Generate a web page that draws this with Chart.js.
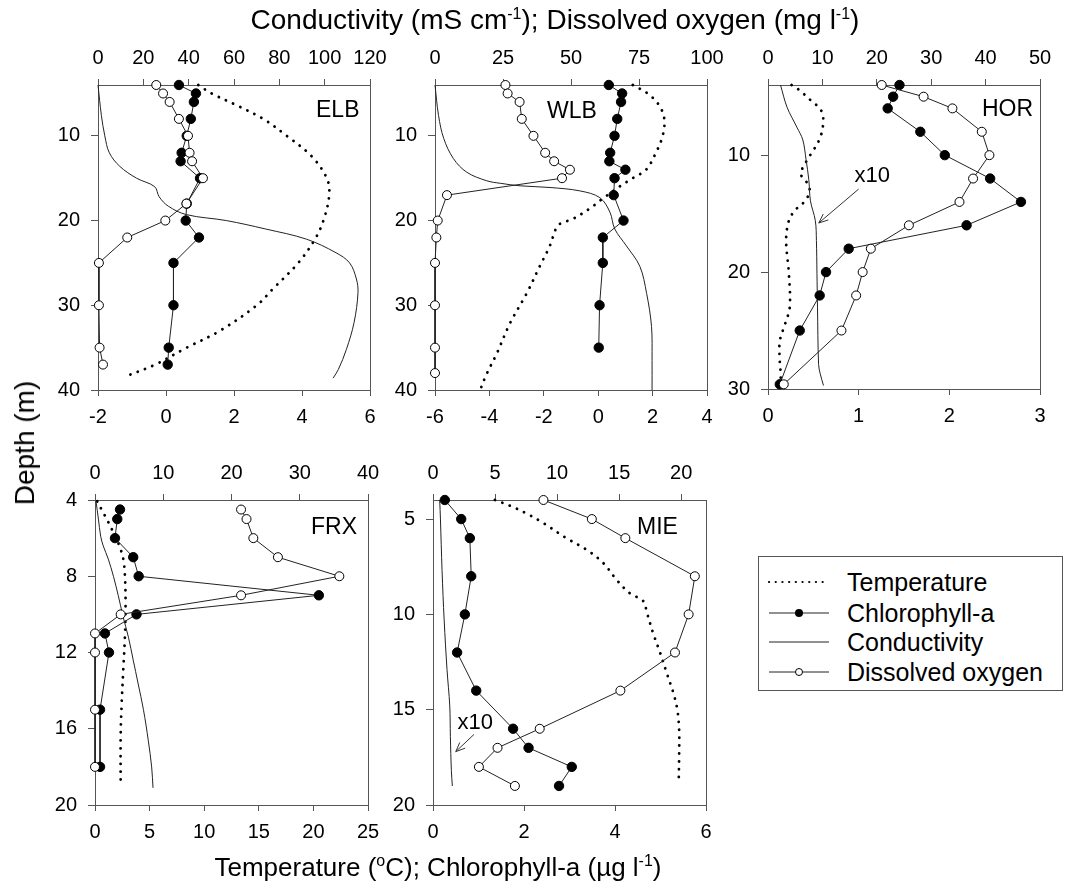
<!DOCTYPE html>
<html>
<head>
<meta charset="utf-8">
<script src="https://cdn.jsdelivr.net/npm/chart.js@4.4.0/dist/chart.umd.min.js"></script>
<style>
  body { margin: 0; background: #fff; }
  #page { position: relative; width: 1068px; height: 888px; overflow: hidden;
          font-family: "Liberation Sans", Arial, sans-serif; color: #000; }
  #page canvas { position: absolute; }
  .title { position: absolute; white-space: nowrap; font-size: 26px; transform: translate(-50%, -50%); }
  .title sup { font-size: 16px; vertical-align: 10px; line-height: 0; }
  #toptitle { font-size: 28px; }
  #ytitle { font-size: 28px; transform: translate(-50%, -50%) rotate(-90deg); }
  #legend { position: absolute; left: 758px; top: 556px; width: 305px; height: 135px;
            border: 1px solid #555; box-sizing: border-box; }
  #legend svg { position: absolute; left: 0; top: 0; }
  .lg { position: absolute; left: 88px; font-size: 25px; transform: translateY(-50%); white-space: nowrap; }
</style>
</head>
<body>
<div id="page">
  <canvas id="elb"></canvas>
  <canvas id="wlb"></canvas>
  <canvas id="hor"></canvas>
  <canvas id="frx"></canvas>
  <canvas id="mie"></canvas>
  <div class="title" id="toptitle" style="left:555px; top:20px;">Conductivity (mS cm<sup>-1</sup>); Dissolved oxygen (mg l<sup>-1</sup>)</div>
  <div class="title" style="left:438px; top:867px;">Temperature (<sup>o</sup>C); Chlorophyll-a (µg l<sup>-1</sup>)</div>
  <div class="title" id="ytitle" style="left:25px; top:443px;">Depth (m)</div>
  <div id="legend">
    <svg width="305" height="135">
      <line x1="10" y1="25" x2="70" y2="25" stroke="#000" stroke-width="2.2" stroke-linecap="round" stroke-dasharray="0.1 6.6"/>
      <line x1="10" y1="56" x2="70" y2="56" stroke="#222" stroke-width="1"/>
      <circle cx="40" cy="56" r="4" fill="#000"/>
      <line x1="10" y1="85" x2="70" y2="85" stroke="#222" stroke-width="1"/>
      <line x1="10" y1="115" x2="70" y2="115" stroke="#222" stroke-width="1"/>
      <circle cx="40" cy="115" r="3.5" fill="#fff" stroke="#000" stroke-width="1"/>
    </svg>
    <div class="lg" style="top:25px;">Temperature</div>
    <div class="lg" style="top:56px;">Chlorophyll-a</div>
    <div class="lg" style="top:85px;">Conductivity</div>
    <div class="lg" style="top:115px;">Dissolved oxygen</div>
  </div>
</div>
<script>
// ---- ELB ----
const elbChlDepth = [4, 5, 6, 8, 10, 12, 13, 15, 18, 20, 22, 25, 30, 35, 37];
const elbChl = [0.38, 0.88, 0.82, 0.73, 0.61, 0.46, 0.43, 1.0, 0.61, 0.58, 0.97, 0.22, 0.22, 0.08, 0.05];
const elbDoDepth = [4, 5, 6, 8, 10, 12, 13, 15, 18, 20, 22, 25, 30, 35, 37];
const elbDo = [25.7, 28.7, 31.6, 35.7, 39.7, 40.4, 41.5, 46.3, 39, 29.7, 12.9, 0.4, 0.4, 0.7, 2.2];
const elbTempDepth = [4, 5, 6.4, 8, 10, 12.4, 15, 17, 20, 22.2, 25, 28, 30, 33, 35, 37, 38.5];
const elbTemp = [0.95, 1.34, 2.08, 2.86, 3.55, 4.28, 4.73, 4.8, 4.63, 4.38, 3.89, 3.16, 2.67, 1.59, 0.61, -0.32, -1.25];
const elbCondDepth = [4, 7.6, 10, 12, 13.6, 15, 16, 17.2, 18.3, 19.3, 20, 21, 22.2, 23.8, 25, 26.9, 28.5, 32, 35.2, 37.6, 38.6];
const elbCond = [0, 1.5, 3, 5, 9.6, 17, 25, 27, 31, 39, 56.6, 74, 92, 105, 111, 114, 114.7, 113, 109.6, 106, 103.7];

// ---- WLB ----
const wlbChlDepth = [4, 5, 6, 8, 10, 12, 13, 14, 15, 17, 20, 22, 25, 30, 35];
const wlbChl = [0.39, 0.88, 0.84, 0.70, 0.60, 0.44, 0.41, 1.0, 0.60, 0.57, 0.93, 0.17, 0.17, 0.05, 0.02];
const wlbDoDepth = [4, 5, 6, 8, 10, 12, 13, 14, 15, 17, 20, 22, 25, 30, 35, 38];
const wlbDo = [25.9, 26.7, 31.1, 31.9, 36.2, 40.5, 43.8, 49.6, 46.7, 4.4, 1.0, 0.5, 0, 0, 0, 0];
const wlbTempDepth = [4, 5, 6.4, 8, 10, 12, 14, 15, 16, 17.4, 18.6, 19.8, 20.4, 21, 23, 25.4, 28.6, 32.1, 35.7, 38.1, 40];
const wlbTemp = [1.27, 1.82, 2.24, 2.43, 2.37, 2.12, 1.76, 1.27, 0.78, 0.17, -0.32, -0.93, -1.41, -1.56, -1.78, -2.15, -2.63, -3.24, -3.73, -4.1, -4.34];
const wlbCondDepth = [4, 7.6, 10.3, 12.7, 14.3, 15.3, 15.6, 15.9, 16.1, 16.5, 17.3, 19, 21, 23, 25.4, 28.6, 32.5, 36.5, 40];
const wlbCond = [0, 1.3, 3.2, 6.8, 11.7, 19, 24, 31.3, 42.3, 53.3, 60.6, 64.3, 66.1, 70.4, 75.3, 77.8, 79.6, 79.8, 79.8];

// ---- HOR ----
const horChlDepth = [4, 5, 6, 8, 10, 12, 14, 16, 18, 20, 22, 25, 29.6];
const horChl = [1.45, 1.38, 1.32, 1.68, 1.95, 2.45, 2.79, 2.19, 0.89, 0.64, 0.57, 0.35, 0.13];
const horDoDepth = [4, 5, 6, 8, 10, 12, 14, 16, 18, 20, 22, 25, 29.6];
const horDo = [20.9, 28.6, 33.9, 39.3, 40.7, 37.7, 35.2, 25.9, 18.9, 17.4, 16.2, 13.5, 2.9];
const horTempDepth = [4, 4.4, 5.3, 6.1, 7, 8.4, 9.6, 10.3, 11.6, 12.1, 13, 13.9, 14.7, 15.6, 17.3, 20.1, 23, 24.4, 25.9, 27.6, 28.7, 29.6];
const horTemp = [0.26, 0.34, 0.47, 0.58, 0.61, 0.58, 0.50, 0.44, 0.36, 0.41, 0.46, 0.41, 0.30, 0.23, 0.20, 0.23, 0.24, 0.19, 0.13, 0.13, 0.14, 0.14];
const horCondDepth = [4, 5.9, 7.6, 8.7, 10.4, 12.1, 13.9, 15.6, 17.3, 20.1, 23, 27.9, 28.7, 29.7];
const horCond = [2.3, 3.5, 5.3, 6.4, 7.0, 7.5, 7.8, 8.7, 8.9, 9.0, 9.1, 9.3, 9.6, 10.2];

// ---- FRX ----
const frxChlDepth = [4.5, 5, 6, 7, 8, 9, 10, 11, 12, 15, 18];
const frxChl = [2.29, 2.04, 1.83, 3.5, 4.0, 20.5, 3.8, 0.91, 1.28, 0.46, 0.46];
const frxDoDepth = [4.5, 5, 6, 7, 8, 9, 10, 11, 12, 15, 18];
const frxDo = [21.4, 22.2, 23.2, 26.8, 35.8, 21.4, 3.76, 0, 0, 0, 0];
const frxTempDepth = [4.07, 4.5, 5, 5.7, 6.4, 7.1, 8, 9.4, 11.2, 12.9, 14.7, 16.4, 19];
const frxTemp = [0.2, 0.6, 1.07, 1.68, 2.23, 2.59, 2.74, 2.8, 2.74, 2.59, 2.44, 2.35, 2.35];
const frxCondDepth = [4.07, 5, 5.9, 6.4, 7.1, 8, 9, 10.1, 11.2, 12.4, 13.6, 15, 16.6, 18, 19.1];
const frxCond = [0.15, 0.5, 0.83, 1.2, 1.95, 2.7, 3.4, 4.1, 4.9, 5.6, 6.3, 7.1, 7.8, 8.3, 8.5];

// ---- MIE ----
const mieChlDepth = [4, 5, 6, 8, 10, 12, 14, 16, 17, 18, 19];
const mieChl = [0.26, 0.62, 0.81, 0.84, 0.70, 0.53, 0.95, 1.76, 2.1, 3.05, 2.77];
const mieDoDepth = [4, 5, 6, 8, 10, 12, 14, 16, 17, 18, 19];
const mieDo = [8.9, 12.8, 15.5, 21.1, 20.6, 19.5, 15.1, 8.6, 5.2, 3.7, 6.6];
const mieTempDepth = [4, 4.3, 4.7, 5.2, 6, 6.6, 7.3, 8.2, 8.9, 9.3, 9.9, 11, 12, 13.1, 14.1, 15, 16.1, 17.3, 18.9];
const mieTemp = [1.36, 1.69, 2.05, 2.42, 2.93, 3.37, 3.74, 4.04, 4.33, 4.62, 4.7, 4.84, 4.99, 5.14, 5.28, 5.37, 5.41, 5.41, 5.40];
const mieCondDepth = [4, 5, 7.7, 10.3, 12.9, 14.8, 16.4, 18.2, 19];
const mieCond = [0.54, 0.6, 0.73, 0.9, 1.13, 1.35, 1.4, 1.48, 1.56];

// tick labels
const elbBottomTicks = [-2, 0, 2, 4, 6];
const elbTopTicks = [0, 20, 40, 60, 80, 100, 120];
const wlbBottomTicks = [-6, -4, -2, 0, 2, 4];
const wlbTopTicks = [0, 25, 50, 75, 100];
const horBottomTicks = [0, 1, 2, 3];
const horTopTicks = [0, 10, 20, 30, 40, 50];
const frxBottomTicks = [0, 5, 10, 15, 20, 25];
const frxTopTicks = [0, 10, 20, 30, 40];
const mieBottomTicks = [0, 2, 4, 6];
const mieTopTicks = [0, 5, 10, 15, 20];
const depthTicksTop = [10, 20, 30, 40];
const depthTicksHor = [10, 20, 30];
const depthTicksFrx = [4, 8, 12, 16, 20];
const depthTicksMie = [5, 10, 15, 20];

const pts = (vals, depths) => vals.map((v, i) => ({ x: v, y: depths[i] }));

const FONT = { family: "'Liberation Sans', Arial, sans-serif", size: 20 };
const AXIS = '#555';
const PADL = 60, PADT = 50;

// frame, panel name and the "x10" notes
const decor = {
  id: 'decor',
  afterDatasetsDraw(chart) {
    const o = chart.options.plugins.decor;
    const a = chart.chartArea;
    const ctx = chart.ctx;
    ctx.save();
    ctx.strokeStyle = AXIS;
    ctx.lineWidth = 1;
    ctx.beginPath();
    ctx.moveTo(Math.round(a.right) + 0.5, a.top);
    ctx.lineTo(Math.round(a.right) + 0.5, a.bottom);
    ctx.stroke();
    ctx.fillStyle = '#000';
    ctx.font = "23px 'Liberation Sans', Arial, sans-serif";
    ctx.textBaseline = 'middle';
    ctx.textAlign = 'left';
    ctx.fillText(o.name, a.left + o.nameX, a.top + o.nameY);
    if (o.note) {
      const sx = chart.scales.x, sy = chart.scales.y;
      const n = o.note;
      ctx.font = "22px 'Liberation Sans', Arial, sans-serif";
      ctx.textAlign = 'center';
      ctx.fillText('x10', sx.getPixelForValue(n.tx), sy.getPixelForValue(n.ty));
      const x1 = sx.getPixelForValue(n.from[0]), y1 = sy.getPixelForValue(n.from[1]);
      const x2 = sx.getPixelForValue(n.to[0]), y2 = sy.getPixelForValue(n.to[1]);
      const ang = Math.atan2(y2 - y1, x2 - x1);
      ctx.strokeStyle = '#333';
      ctx.beginPath();
      ctx.moveTo(x1, y1);
      ctx.lineTo(x2, y2);
      ctx.moveTo(x2 - 10 * Math.cos(ang - 0.4), y2 - 10 * Math.sin(ang - 0.4));
      ctx.lineTo(x2, y2);
      ctx.lineTo(x2 - 10 * Math.cos(ang + 0.4), y2 - 10 * Math.sin(ang + 0.4));
      ctx.stroke();
    }
    ctx.restore();
  }
};

function axis(pos, min, max, tickVals, extra) {
  const isY = pos === 'left';
  return Object.assign({
    type: 'linear',
    position: pos,
    min: min,
    max: max,
    afterBuildTicks: s => { s.ticks = tickVals.map(v => ({ value: v })); },
    afterFit: s => {
      if (isY) s.width = PADL; else s.height = PADT;
      s.paddingLeft = 0; s.paddingRight = 0; s.paddingTop = 0; s.paddingBottom = 0;
    },
    grid: { drawOnChartArea: false, drawTicks: true, tickLength: isY ? 7 : 6, color: AXIS, tickColor: AXIS },
    border: { display: true, color: AXIS, width: 1 },
    ticks: { font: FONT, color: '#000', padding: isY ? 11 : 9, autoSkip: false, maxRotation: 0,
             callback: v => String(v) }
  }, extra || {});
}

function panel(id, box, p) {
  const cv = document.getElementById(id);
  const w = box.r - box.l + PADL + 30, h = box.b - box.t + PADT * 2;
  cv.width = w; cv.height = h;
  cv.style.left = (box.l - PADL) + 'px';
  cv.style.top = (box.t - PADT) + 'px';
  new Chart(cv, {
    type: 'scatter',
    data: {
      datasets: [
        { label: 'Dissolved oxygen', data: pts(p.doVals, p.doDepth), xAxisID: 'x2', order: 0,
          showLine: true, borderColor: '#222', borderWidth: 1, pointRadius: 4.5,
          pointBackgroundColor: '#fff', pointBorderColor: '#000', pointBorderWidth: 1, clip: false },
        { label: 'Chlorophyll-a', data: pts(p.chl, p.chlDepth), xAxisID: 'x', order: 1,
          showLine: true, borderColor: '#222', borderWidth: 1, pointRadius: 4.7,
          pointBackgroundColor: '#000', pointBorderColor: '#000', clip: false },
        { label: 'Conductivity', data: pts(p.cond, p.condDepth), xAxisID: 'x2', order: 2,
          showLine: true, borderColor: '#222', borderWidth: 1, pointRadius: 0, tension: 0.35, clip: false },
        { label: 'Temperature', data: pts(p.temp, p.tempDepth), xAxisID: 'x', order: 3,
          showLine: true, borderColor: '#000', borderWidth: 2.8, borderCapStyle: 'round',
          borderDash: [0.1, 7.8], pointRadius: 0, tension: 0.35, clip: false }
      ]
    },
    options: {
      responsive: false,
      animation: false,
      devicePixelRatio: 1,
      layout: { padding: { left: 0, top: 0, right: 30, bottom: 0 } },
      scales: {
        x: axis('bottom', p.bottom[0], p.bottom[p.bottom.length - 1], p.bottom),
        x2: axis('top', p.top[0], p.topMax, p.top),
        y: axis('left', 4, p.depthMax, p.depthTicks, { reverse: true })
      },
      plugins: {
        legend: { display: false },
        tooltip: { enabled: false },
        decor: { name: p.name, nameX: p.nameX, nameY: p.nameY, note: p.note }
      }
    },
    plugins: [decor]
  });
}

panel('elb', { l: 98, t: 85, r: 370, b: 390 }, {
  name: 'ELB', nameX: 218, nameY: 26,
  chl: elbChl, chlDepth: elbChlDepth, doVals: elbDo, doDepth: elbDoDepth,
  temp: elbTemp, tempDepth: elbTempDepth, cond: elbCond, condDepth: elbCondDepth,
  bottom: elbBottomTicks, top: elbTopTicks, topMax: 120, depthMax: 40, depthTicks: depthTicksTop
});
panel('wlb', { l: 435, t: 85, r: 707, b: 390 }, {
  name: 'WLB', nameX: 112, nameY: 27,
  chl: wlbChl, chlDepth: wlbChlDepth, doVals: wlbDo, doDepth: wlbDoDepth,
  temp: wlbTemp, tempDepth: wlbTempDepth, cond: wlbCond, condDepth: wlbCondDepth,
  bottom: wlbBottomTicks, top: wlbTopTicks, topMax: 100, depthMax: 40, depthTicks: depthTicksTop
});
panel('hor', { l: 768, t: 85, r: 1040, b: 389 }, {
  name: 'HOR', nameX: 214, nameY: 25,
  chl: horChl, chlDepth: horChlDepth, doVals: horDo, doDepth: horDoDepth,
  temp: horTemp, tempDepth: horTempDepth, cond: horCond, condDepth: horCondDepth,
  bottom: horBottomTicks, top: horTopTicks, topMax: 50, depthMax: 30, depthTicks: depthTicksHor,
  note: { tx: 1.15, ty: 11.8, from: [1.0, 12.9], to: [0.56, 15.8] }
});
panel('frx', { l: 95, t: 500, r: 368, b: 805 }, {
  name: 'FRX', nameX: 216, nameY: 28,
  chl: frxChl, chlDepth: frxChlDepth, doVals: frxDo, doDepth: frxDoDepth,
  temp: frxTemp, tempDepth: frxTempDepth, cond: frxCond, condDepth: frxCondDepth,
  bottom: frxBottomTicks, top: frxTopTicks, topMax: 40, depthMax: 20, depthTicks: depthTicksFrx
});
panel('mie', { l: 433, t: 500, r: 706, b: 805 }, {
  name: 'MIE', nameX: 204, nameY: 28,
  chl: mieChl, chlDepth: mieChlDepth, doVals: mieDo, doDepth: mieDoDepth,
  temp: mieTemp, tempDepth: mieTempDepth, cond: mieCond, condDepth: mieCondDepth,
  bottom: mieBottomTicks, top: mieTopTicks, topMax: 22, depthMax: 20, depthTicks: depthTicksMie,
  note: { tx: 0.93, ty: 15.7, from: [0.9, 16.3], to: [0.5, 17.2] }
});
</script>
</body>
</html>
